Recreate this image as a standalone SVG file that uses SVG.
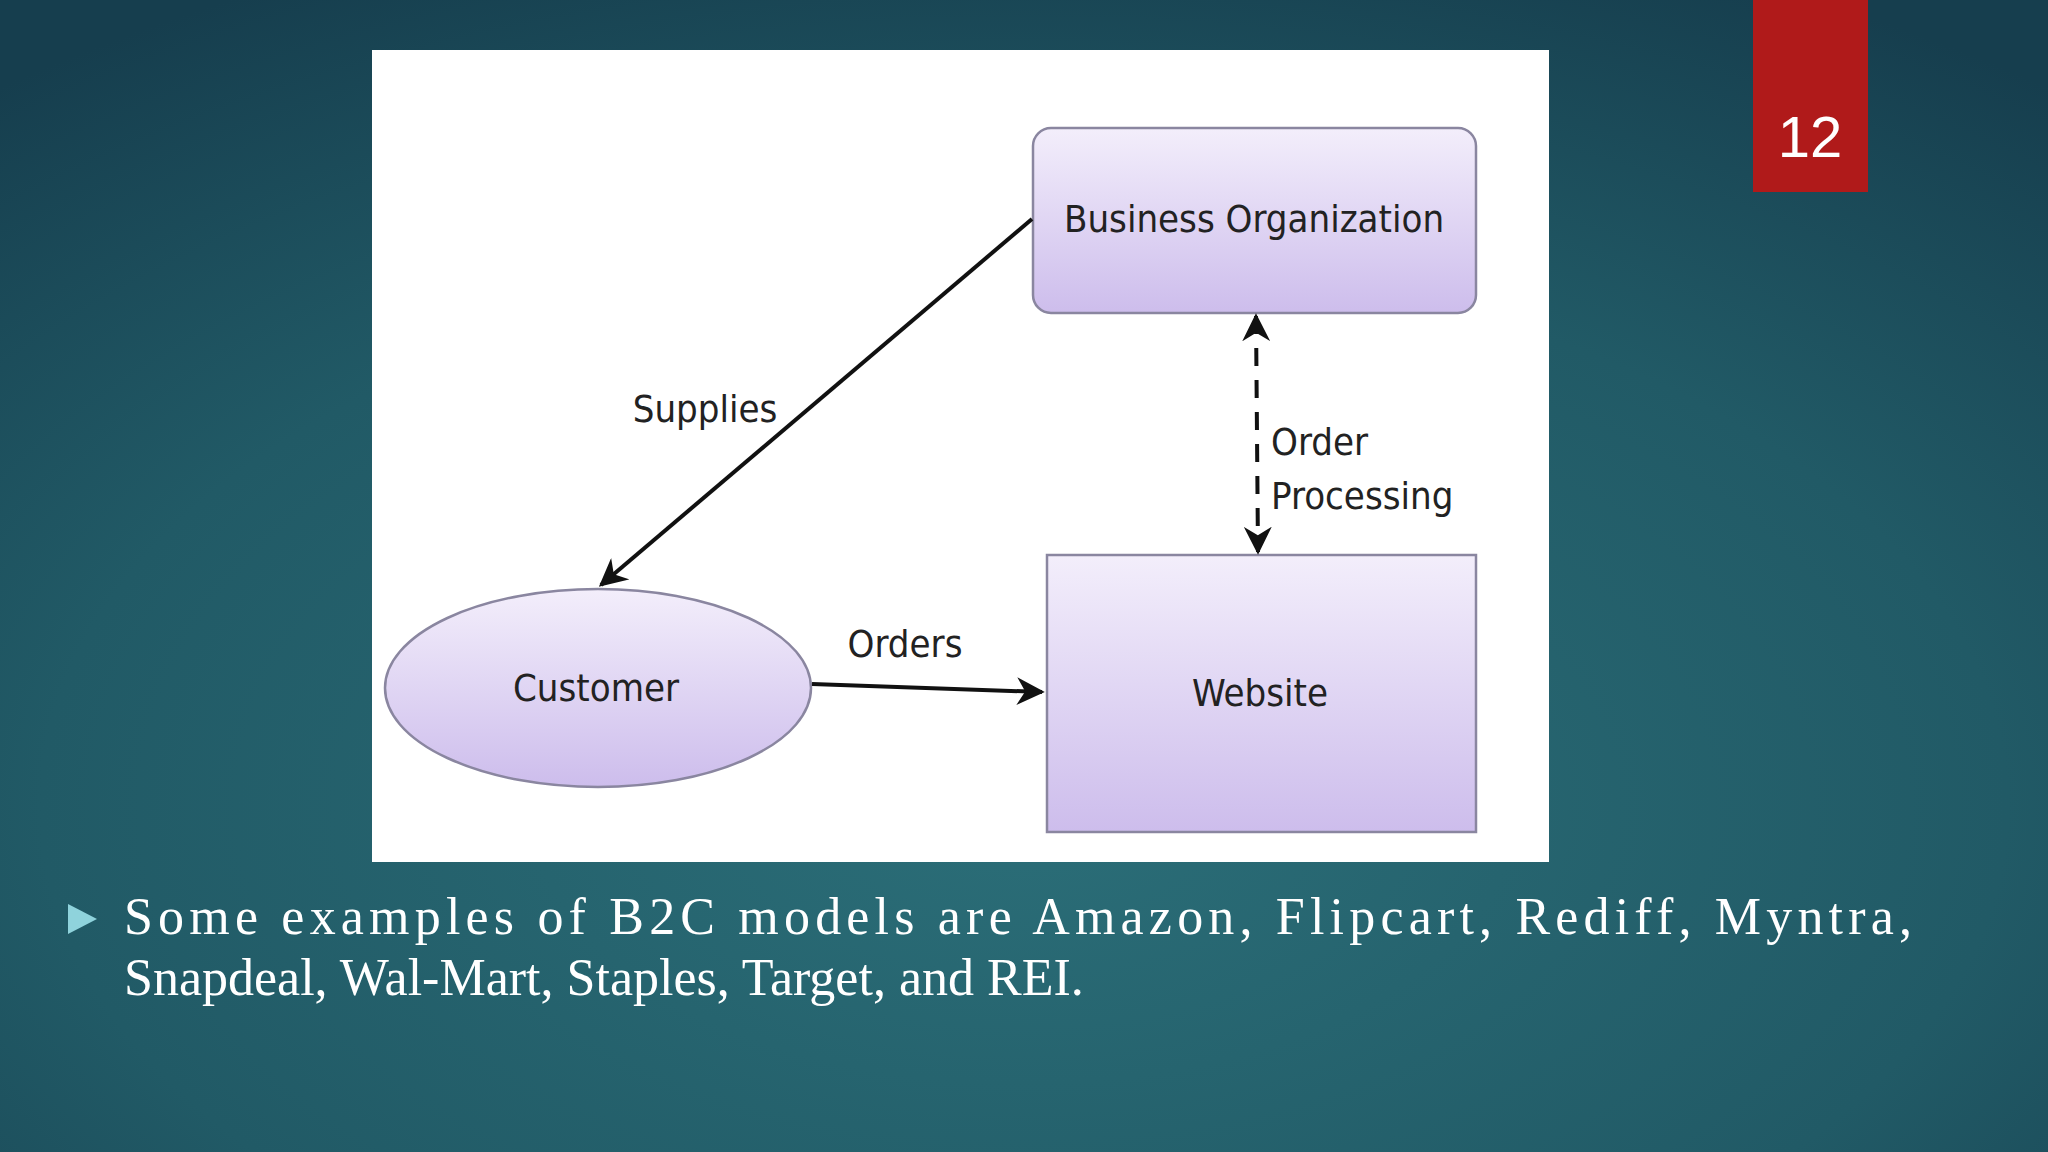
<svg xmlns="http://www.w3.org/2000/svg" width="2048" height="1152" viewBox="0 0 2048 1152">
<defs>
<radialGradient id="bg" cx="0.5" cy="0.7" r="0.8">
<stop offset="0" stop-color="#2b6e78"/><stop offset="0.6" stop-color="#215a66"/><stop offset="1" stop-color="#163e4e"/>
</radialGradient>
<linearGradient id="nf" x1="0" y1="0" x2="0" y2="1">
<stop offset="0" stop-color="#f3eefb"/><stop offset="1" stop-color="#cdbdec"/>
</linearGradient>
<marker id="ah" viewBox="0 0 10 10" refX="9" refY="5" markerWidth="7" markerHeight="7" orient="auto-start-reverse">
<path d="M0,0 L10,5 L0,10 L3,5 Z" fill="#111"/>
</marker>
<style>
.n{fill:url(#nf);stroke:#8a86a0;stroke-width:2.5}
.t{font-family:"DejaVu Sans Condensed","Liberation Sans",sans-serif;font-size:38px;fill:#222}
.c{stroke:#111;stroke-width:4;fill:none}
</style>
</defs>
<rect width="2048" height="1152" fill="url(#bg)"/>
<rect x="1753" y="0" width="115" height="192" fill="#b01a1a"/>
<text x="1810" y="157" text-anchor="middle" font-family="Liberation Sans,sans-serif" font-size="58" fill="#fff">12</text>
<rect x="372" y="50" width="1177" height="812" fill="#fff"/>
<g id="business"><rect class="n" x="1033" y="128" width="443" height="185" rx="18"/>
<text class="t" x="1254" y="232" text-anchor="middle">Business Organization</text></g>
<g id="website"><rect class="n" x="1047" y="555" width="429" height="277"/>
<text class="t" x="1260" y="706" text-anchor="middle">Website</text></g>
<g id="customer"><ellipse class="n" cx="598" cy="688" rx="213" ry="99"/>
<text class="t" x="596" y="701" text-anchor="middle">Customer</text></g>
<g id="connectors">
<line class="c" x1="1032" y1="219" x2="601" y2="585" marker-end="url(#ah)"/>
<line class="c" x1="812" y1="684" x2="1042" y2="692" marker-end="url(#ah)"/>
<line class="c" x1="1256" y1="316" x2="1258" y2="552" stroke-dasharray="18,14" marker-start="url(#ah)" marker-end="url(#ah)"/>
<text class="t" x="705" y="422" text-anchor="middle">Supplies</text>
<text class="t" x="905" y="657" text-anchor="middle">Orders</text>
<text class="t" x="1271" y="455">Order</text>
<text class="t" x="1271" y="509">Processing</text>
</g>
<path d="M68,904 L97,919 L68,934 Z" fill="#8fd3dc"/>
<g font-family="Liberation Serif,serif" font-size="52" fill="#fff">
<text x="124" y="934" textLength="1788" lengthAdjust="spacing">Some examples of B2C models are Amazon, Flipcart, Rediff, Myntra,</text>
<text x="124" y="995">Snapdeal, Wal-Mart, Staples, Target, and REI.</text>
</g>
</svg>
